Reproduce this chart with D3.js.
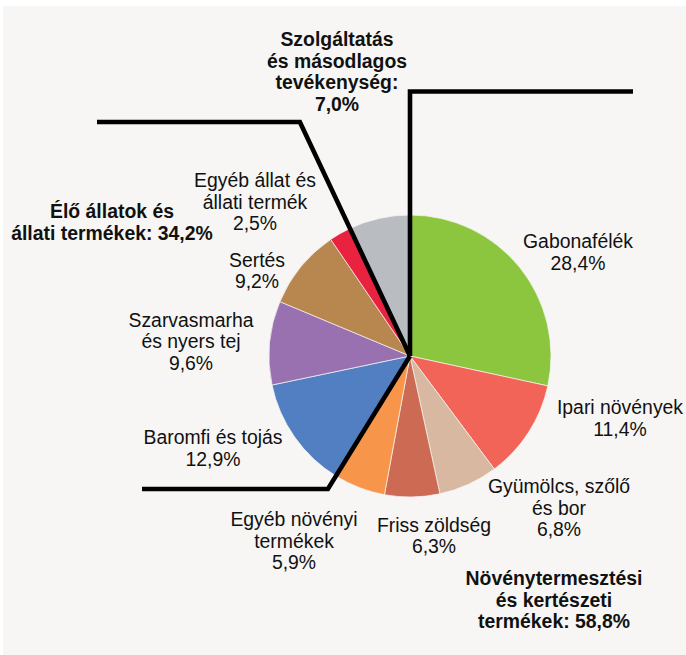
<!DOCTYPE html>
<html>
<head>
<meta charset="utf-8">
<script src="https://cdn.jsdelivr.net/npm/d3@7"></script>
<style>
  body { margin: 0; background: #fff; }
  text { font-family: "Liberation Sans", Arial, sans-serif; }
</style>
</head>
<body>
<div id="wrapper"></div>
<script>
// 1. Data

const categories = [
  "Gabonafélék", "Ipari növények", "Gyümölcs, szőlő és bor", "Friss zöldség",
  "Egyéb növényi termékek", "Baromfi és tojás", "Szarvasmarha és nyers tej",
  "Sertés", "Egyéb állat és állati termék", "Szolgáltatás és másodlagos tevékenység"
]
const shares = [28.4, 11.4, 6.8, 6.3, 5.9, 12.9, 9.6, 9.2, 2.5, 7.0]
const labelLines = [
  ["Gabonafélék"],
  ["Ipari növények"],
  ["Gyümölcs, szőlő", "és bor"],
  ["Friss zöldség"],
  ["Egyéb növényi", "termékek"],
  ["Baromfi és tojás"],
  ["Szarvasmarha", "és nyers tej"],
  ["Sertés"],
  ["Egyéb állat és", "állati termék"],
  ["Szolgáltatás", "és másodlagos", "tevékenység:"]
]
const sliceColors = [
  "#8cc63f", "#f26457", "#d8b8a1", "#cd6a54", "#f7964a",
  "#517fc1", "#9a71b0", "#b8864f", "#e8223f", "#b9bdc1"
]

const groupNames = [
  ["Növénytermesztési", "és kertészeti", "termékek:"],
  ["Élő állatok és", "állati termékek:"]
]
const groupShares = [58.8, 34.2]

// 2. Layout

const width = 686
const height = 655
const center = { x: 410, y: 356 }
const radius = 141
const lineHeight = 21.7

// label anchor (center x, first baseline) per slice
const sliceLabelPos = [
  [578, 248], [620, 414], [559, 493], [434, 531.5], [294, 526],
  [213, 444], [191, 326.5], [257, 266.5], [255, 187], [337, 46]
]
const groupLabelPos = [[554, 585], [112, 218]]

// divider lines: slice index where the group starts, corner y, end x
const dividers = [
  { start: 0, cornerY: 91.5, endX: 633 },
  { start: 5, cornerY: 489, endX: 142 },
  { start: 9, cornerY: 122, endX: 97 }
]

const locale = d3.formatLocale({ decimal: ",", thousands: " ", grouping: [3], currency: ["", ""] })
const fmt = v => locale.format(".1f")(v) + "%"

// 3. Canvas

const svg = d3.select("#wrapper")
  .append("svg")
  .attr("width", width)
  .attr("height", height)

svg.append("rect")
  .attr("x", 3)
  .attr("y", 6)
  .attr("width", width - 3)
  .attr("height", height - 6)
  .attr("fill", "#f7f6f4")

// 4. Pie

const pie = d3.pie().sort(null).value(d => d)
const arcs = pie(shares)
const arc = d3.arc().innerRadius(0).outerRadius(radius)

const pieGroup = svg.append("g")
  .attr("transform", `translate(${center.x},${center.y})`)

pieGroup.selectAll("path")
  .data(arcs)
  .join("path")
  .attr("d", arc)
  .attr("fill", (d, i) => sliceColors[i])
  .attr("stroke", "#f7f6f4")
  .attr("stroke-width", 0.7)

// 5. Group divider lines, following slice boundaries (nudged slightly like the original)

dividers.forEach(dv => {
  const a = arcs[dv.start].startAngle
  const t = (center.y - dv.cornerY) / Math.cos(a)
  const cornerX = center.x + t * Math.sin(a)
  svg.append("path")
    .attr("d", d3.line()([[center.x, center.y], [cornerX, dv.cornerY], [dv.endX, dv.cornerY]]))
    .attr("fill", "none")
    .attr("stroke", "#000")
    .attr("stroke-width", 4.6)
    .attr("stroke-linejoin", "miter")
})

// 6. Labels

const drawLabel = (lines, pos, bold) => {
  const text = svg.append("text")
    .attr("text-anchor", "middle")
    .attr("font-size", 19.4)
    .attr("font-weight", bold ? "bold" : "normal")
    .attr("fill", "#111")
  lines.forEach((l, j) => {
    text.append("tspan")
      .attr("x", pos[0])
      .attr("y", pos[1] + j * lineHeight)
      .text(l)
  })
}

labelLines.forEach((lines, i) => {
  drawLabel([...lines, fmt(shares[i])], sliceLabelPos[i], i === 9)
})

groupNames.forEach((lines, i) => {
  const last = lines.length - 1
  const full = lines.map((l, j) => j === last ? `${l} ${fmt(groupShares[i])}` : l)
  drawLabel(full, groupLabelPos[i], true)
})
</script>
</body>
</html>
